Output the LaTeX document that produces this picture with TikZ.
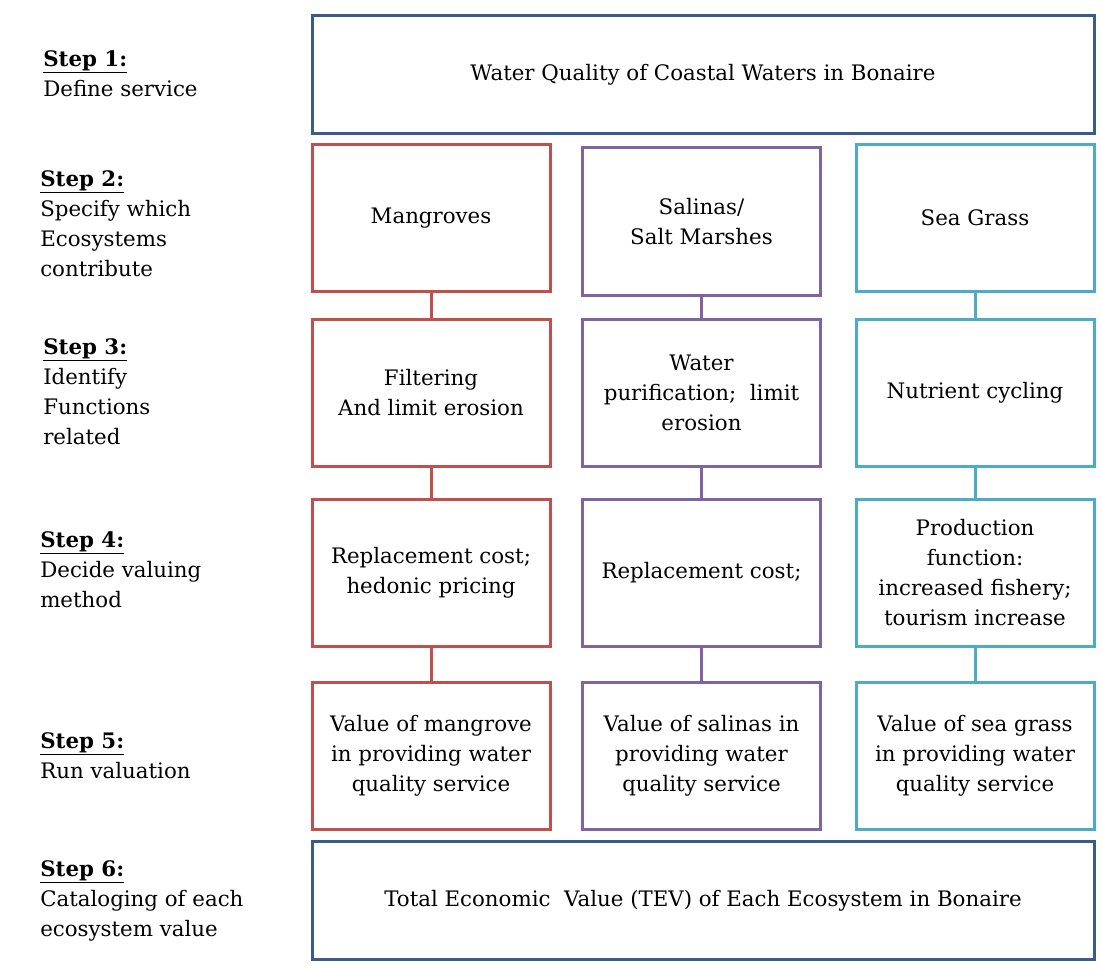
\documentclass[tikz,border=0pt]{standalone}
\usepackage{fontspec}
\setmainfont{DejaVu Serif}
\definecolor{navyc}{HTML}{385D8A}
\definecolor{redc}{HTML}{C0504D}
\definecolor{purc}{HTML}{8064A2}
\definecolor{tealc}{HTML}{4BACC6}
\newcommand{\stephead}[1]{\underline{\textbf{#1}}}
\begin{document}
\begin{tikzpicture}[x=0.75pt,y=-0.75pt,
  txt/.style={font=\fontsize{16}{22.5}\selectfont},
  box/.style={txt,draw,line width=2.25pt,align=center,inner sep=2pt,
    minimum width=178.5pt,minimum height=110.25pt},
  wide/.style={box,draw=navyc,minimum width=586.5pt,minimum height=88.5pt},
  lab/.style={txt,anchor=north west,align=left,inner sep=0pt},
  link/.style={line width=2.25pt}]
\useasboundingbox (0,0) rectangle (1102,970);

% step labels
\node[lab] (s1) at (43,50) {\stephead{Step 1:}\\Define service};
\node[lab] (s2) at (40,170) {\stephead{Step 2:}\\Specify which\\Ecosystems\\contribute};
\node[lab] (s3) at (43,338) {\stephead{Step 3:}\\Identify\\Functions\\related};
\node[lab] (s4) at (40,531) {\stephead{Step 4:}\\Decide valuing\\method};
\node[lab] (s5) at (40,732) {\stephead{Step 5:}\\Run valuation};
\node[lab] (s6) at (40,860) {\stephead{Step 6:}\\Cataloging of each\\ecosystem value};

% service and total
\node[wide] (top) at (703,75) {Water Quality of Coastal Waters in Bonaire};
\node[wide] (tev) at (703,900.5) {Total Economic\ \ Value (TEV) of Each Ecosystem in Bonaire};

% mangroves column
\node[box,draw=redc] (mang) at (431,218) {Mangroves};
\node[box,draw=redc] (filt) at (431,393) {Filtering\\And limit erosion};
\node[box,draw=redc] (hedon) at (431,572.5) {Replacement cost;\\hedonic pricing};
\node[box,draw=redc] (valm) at (431,755.5) {Value of mangrove\\in providing water\\quality service};

% salinas column
\node[box,draw=purc] (salin) at (701.5,221.5) {Salinas/\\Salt Marshes};
\node[box,draw=purc] (puri) at (701.5,392.5) {Water\\purification;\ \ limit\\erosion};
\node[box,draw=purc] (repl) at (701.5,572.5) {Replacement cost;};
\node[box,draw=purc] (vals) at (701.5,755.5) {Value of salinas in\\providing water\\quality service};

% sea grass column
\node[box,draw=tealc] (seag) at (975,218) {Sea Grass};
\node[box,draw=tealc] (nutri) at (975,393) {Nutrient cycling};
\node[box,draw=tealc] (prod) at (975,572.5) {Production\\function:\\increased fishery;\\tourism increase};
\node[box,draw=tealc] (valg) at (975,755.5) {Value of sea grass\\in providing water\\quality service};

\draw[link,redc] (mang)--(filt) (filt)--(hedon) (hedon)--(valm);
\draw[link,purc] (salin)--(puri) (puri)--(repl) (repl)--(vals);
\draw[link,tealc] (seag)--(nutri) (nutri)--(prod) (prod)--(valg);
\end{tikzpicture}
\end{document}
